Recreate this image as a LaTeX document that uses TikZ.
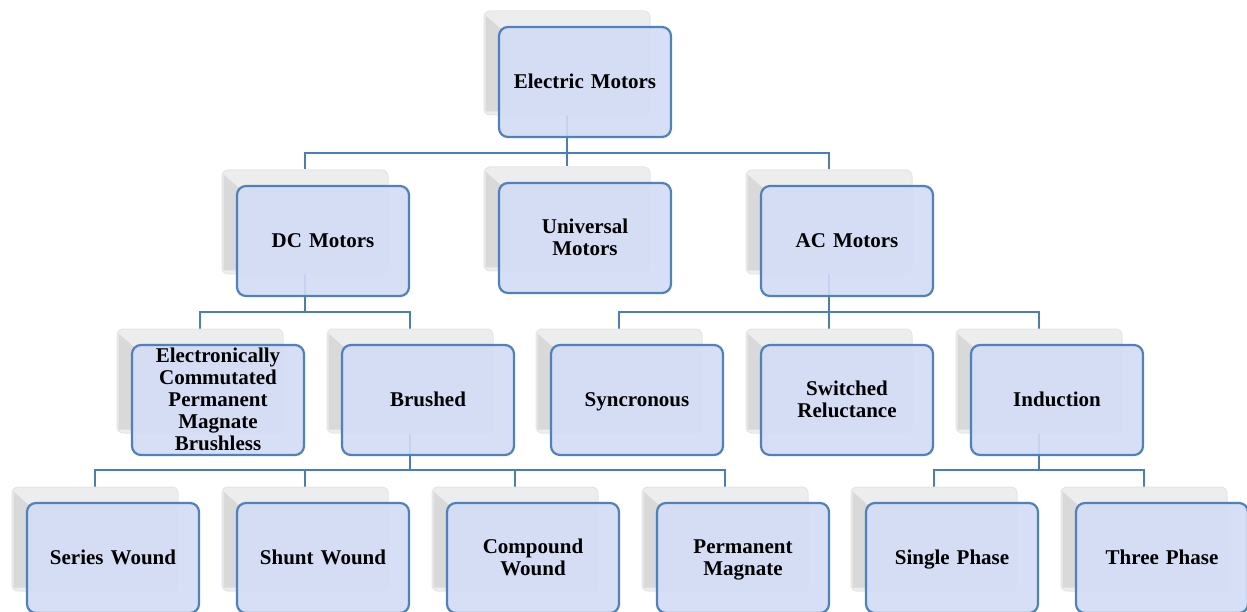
\documentclass[tikz,border=0pt]{standalone}
\usepackage{fontspec}
\setmainfont{Liberation Serif}
\usetikzlibrary{calc}
\pgfdeclarelayer{bg}
\pgfsetlayers{bg,main}
\definecolor{boxfill}{HTML}{D2DCF5}
\definecolor{boxline}{HTML}{4F81BD}
\definecolor{connc}{HTML}{4A7EBB}
\tikzset{
  frontbox/.style={draw=boxline, line width=2.2pt, fill=boxfill, fill opacity=0.9,
    rounded corners=9pt, minimum width=172pt, minimum height=110pt, inner sep=0pt},
  boxtext/.style={text width=165pt, align=center, inner sep=0pt,
    font=\fontsize{21}{22}\selectfont\bfseries},
  backbox/.style={draw=black!10, line width=1pt, fill=black!7, rounded corners=6pt,
    minimum width=166pt, minimum height=104pt, inner sep=0pt},
  bevel/.style={fill=black!15},
  conn/.style={draw=connc, line width=2.8pt}
}
\newcommand\motor[3]{%
  \node[backbox] (#1-b) at ($(#2)+(-18,-19)$) {};
  \fill[bevel] ($(#1-b.north west)+(2,5)$) -- ($(#1-b.north west)+(18,19)$) -- ($(#1-b.south west)+(18,-4)$) -- ($(#1-b.south west)+(2,-4)$) -- cycle;
  \node[frontbox] (#1) at (#2) {};
  \node[boxtext] (#1-t) at ($(#2)+(0,2.5)$) {\strut#3\strut};
}
\begin{document}
\begin{tikzpicture}[x=1pt,y=-1pt]
\useasboundingbox (0,0) rectangle (1247,612);
\clip (0,0) rectangle (1247,612);
\motor{root}{585,82}{Electric Motors}
\motor{dc}{323,241}{DC Motors}
\motor{univ}{585,238}{Universal\\Motors}
\motor{ac}{847,241}{AC Motors}
\motor{ec}{218,400}{Electronically\\Commutated\\Permanent\\Magnate\\Brushless}
\motor{brushed}{428,400}{Brushed}
\motor{sync}{637,400}{Syncronous}
\motor{switched}{847,400}{Switched\\Reluctance}
\motor{induction}{1057,400}{Induction}
\motor{series}{113,558}{Series Wound}
\motor{shunt}{323,558}{Shunt Wound}
\motor{compound}{533,558}{Compound\\Wound}
\motor{perm}{743,558}{Permanent\\Magnate}
\motor{single}{952,558}{Single Phase}
\motor{three}{1162,558}{Three Phase}
\coordinate (y1) at (0,153);
\coordinate (y2) at (0,312);
\coordinate (y3) at (0,470);
\begin{pgfonlayer}{bg}
\coordinate (j0) at (root-b.south |- y1);
\draw[conn] (root-b.south) -- (j0);
\draw[conn] (j0) -| (dc-b.north);
\draw[conn] (j0) -| (ac-b.north);
\draw[conn] (j0) -- (univ-b.north);
\coordinate (j1) at (dc-b.south |- y2);
\draw[conn] (dc-b.south) -- (j1);
\draw[conn] (j1) -| (ec-b.north);
\draw[conn] (j1) -| (brushed-b.north);
\coordinate (j2) at (ac-b.south |- y2);
\draw[conn] (ac-b.south) -- (j2);
\draw[conn] (j2) -| (sync-b.north);
\draw[conn] (j2) -| (induction-b.north);
\draw[conn] (j2) -- (switched-b.north);
\coordinate (j3) at (brushed-b.south |- y3);
\draw[conn] (brushed-b.south) -- (j3);
\draw[conn] (j3) -| (series-b.north);
\draw[conn] (j3) -| (shunt-b.north);
\draw[conn] (j3) -| (compound-b.north);
\draw[conn] (j3) -| (perm-b.north);
\coordinate (j4) at (induction-b.south |- y3);
\draw[conn] (induction-b.south) -- (j4);
\draw[conn] (j4) -| (single-b.north);
\draw[conn] (j4) -| (three-b.north);
\end{pgfonlayer}
\end{tikzpicture}
\end{document}
